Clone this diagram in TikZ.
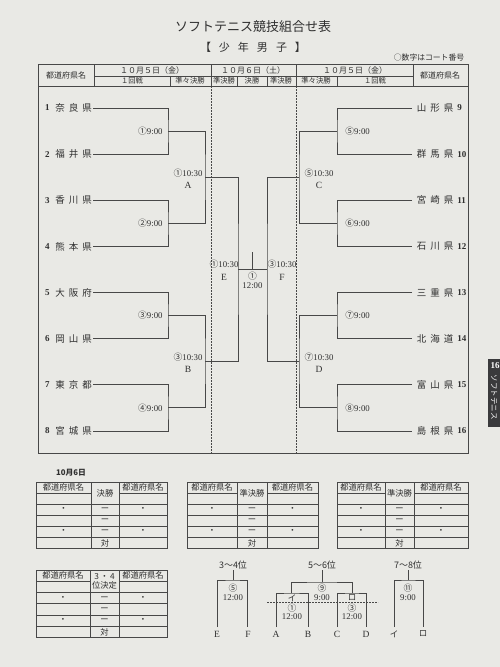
\documentclass[tikz,border=0pt]{standalone}
\usepackage{fontspec}
\setmainfont{Liberation Serif}
\newfontfamily\jp{Noto Sans CJK JP}
\usetikzlibrary{calc}

\definecolor{paper}{RGB}{233,233,229}
\definecolor{ink}{RGB}{48,48,48}
\definecolor{rule}{RGB}{72,72,72}
\definecolor{tabbg}{RGB}{58,58,60}

\newcommand{\pref}[3]{#1\kern4pt#2\kern4pt#3}
\newcommand{\cn}[1]{{\jp #1}}
\newcommand{\fs}[1]{\fontsize{#1}{#1}\selectfont}

% result table: prefix, x0, x1, x2, x3, top, row height, middle header
\newcommand{\scoretab}[8]{%
  \draw (#2,#6) rectangle (#5,{#6+6*#7});
  \draw (#3,#6) -- (#3,{#6+6*#7}) (#4,#6) -- (#4,{#6+6*#7});
  \foreach \r in {1,...,5}
    \draw (#2,{#6+\r*#7}) -- (#3,{#6+\r*#7}) (#4,{#6+\r*#7}) -- (#5,{#6+\r*#7});
  \foreach \r in {2,...,5}
    \draw (#3,{#6+\r*#7}) -- (#4,{#6+\r*#7});
  \node[cell] (#1l) at ({(#2+#3)/2},{#6+0.5*#7}) {都道府県名};
  \node[cell] (#1r) at ({(#4+#5)/2},{#6+0.5*#7}) {都道府県名};
  \node[cell, align=center] (#1m) at ({(#3+#4)/2},{#6+#7}) {#8};
  \foreach \r in {2,4} {
    \node[cell] (#1a\r) at ({(#2+#3)/2},{#6+(\r+0.5)*#7}) {・};
    \node[cell] (#1b\r) at ({(#4+#5)/2},{#6+(\r+0.5)*#7}) {・};
  }
  \foreach \r in {2,3,4}
    \node[cell] (#1c\r) at ({(#3+#4)/2},{#6+(\r+0.5)*#7}) {ー};
  \node[cell] (#1v) at ({(#3+#4)/2},{#6+5.5*#7}) {対};
}

\begin{document}
\begin{tikzpicture}[x=1pt, y=-1pt, line width=0.85pt, draw=rule,
  every node/.style={inner sep=0pt, text=ink},
  team/.style={font=\jp\fs{9.5}},
  num/.style={font=\bfseries\fs{9}},
  time/.style={font=\fs{8.8}},
  rnd/.style={font=\fs{9.5}},
  head/.style={font=\jp\fs{8}},
  cell/.style={font=\jp\fs{8.3}},
  gap/.style={dash pattern=on 2pt off 1pt, line width=0.75pt}]
  \fill[paper] (0,0) rectangle (500,667);
  \useasboundingbox (0,0) rectangle (500,667);

  % titles
  \node[font=\jp\fs{13}] (title) at (253,27) {ソフトテニス競技組合せ表};
  \node[font=\jp\fs{11}] (sex) at (253,47) {【\kern8pt 少\kern8pt 年\kern8pt 男\kern8pt 子\kern8pt 】};
  \node[head, font=\jp\fs{7.8}] (note) at (429,58) {○数字はコート番号};

  % header
  \draw (38,64) rectangle (468,453);
  \draw (38,86) -- (468,86) (94,76) -- (413,76);
  \foreach \x in {94,211,296,413} \draw (\x,64) -- (\x,86);
  \foreach \x in {170,237,267,337} \draw (\x,76) -- (\x,86);
  \draw[gap] (211,86) -- (211,453) (296,86) -- (296,453);
  \node[head] (hl) at (66,75) {都道府県名};
  \node[head] (hr) at (440,75) {都道府県名};
  \node[head] (d1) at (152,70) {１０月５日（金）};
  \node[head] (d2) at (253,70) {１０月６日（土）};
  \node[head] (d3) at (355,70) {１０月５日（金）};
  \foreach \x/\t [count=\n] in {132/１回戦,190/準々決勝,224/準決勝,252/決勝,281/準決勝,316/準々決勝,375/１回戦}
    \node[head, font=\jp\fs{7.3}] (s\n) at (\x,81) {\t};

  % left half
  \foreach \i/\nm in {1/奈良県,2/福井県,3/香川県,4/熊本県,5/大阪府,6/岡山県,7/東京都,8/宮城県}{
    \pgfmathsetmacro\y{108+46.14*(\i-1)}
    \node[num, anchor=east] (ln\i) at (50,\y) {\i};
    \node[team, anchor=west] (lt\i) at (55,\y) {\expandafter\pref\nm};
    \coordinate (la\i) at (93,\y);
  }
  \foreach \k/\a/\b/\c in {1/1/2/①,2/3/4/②,3/5/6/③,4/7/8/④}{
    \pgfmathsetmacro\y{108+46.14*(\a-1)+23.07}
    \coordinate (lm\k) at (168,\y);
    \draw (la\a) -| (lm\k) |- (la\b);
    \node[time, anchor=east] (lr\k) at (163,\y) {\cn{\c}9:00};
  }
  \coordinate (qa) at (205,177);
  \coordinate (qb) at (205,361);
  \draw (lm1) -| (qa) |- (lm2);
  \draw (lm3) -| (qb) |- (lm4);

  % right half
  \foreach \i/\nm in {9/山形県,10/群馬県,11/宮崎県,12/石川県,13/三重県,14/北海道,15/富山県,16/島根県}{
    \pgfmathsetmacro\y{108+46.14*(\i-9)}
    \node[team, anchor=west] (rt\i) at (416.5,\y) {\expandafter\pref\nm};
    \node[num, anchor=west] (rn\i) at (457,\y) {\i};
    \coordinate (ra\i) at (412,\y);
  }
  \foreach \k/\a/\b/\c in {5/9/10/⑤,6/11/12/⑥,7/13/14/⑦,8/15/16/⑧}{
    \pgfmathsetmacro\y{108+46.14*(\a-9)+23.07}
    \coordinate (rm\k) at (337,\y);
    \draw (ra\a) -| (rm\k) |- (ra\b);
    \node[time, anchor=west] (rr\k) at (345,\y) {\cn{\c}9:00};
  }
  \coordinate (qc) at (299,177);
  \coordinate (qd) at (299,361);
  \draw (rm5) -| (qc) |- (rm6);
  \draw (rm7) -| (qd) |- (rm8);

  % semis and final
  \coordinate (ej) at (238,269);
  \coordinate (fj) at (267,269);
  \coordinate (fm) at (252.5,269);
  \coordinate (ft) at (252.5,252);
  \draw (qa) -| (ej) |- (qb);
  \draw (qc) -| (fj) |- (qd);
  \draw (ej) -- (fj) (fm) -- (ft);

  \node[time] (qat) at (188,173) {\cn{①}10:30};
  \node[rnd] (qan) at (188,185) {A};
  \node[time] (qbt) at (188,357) {\cn{③}10:30};
  \node[rnd] (qbn) at (188,369) {B};
  \node[time] (qct) at (319,173) {\cn{⑤}10:30};
  \node[rnd] (qcn) at (319,185) {C};
  \node[time] (qdt) at (319,357) {\cn{⑦}10:30};
  \node[rnd] (qdn) at (319,369) {D};
  \node[time] (et) at (224,264) {\cn{①}10:30};
  \node[rnd] (en) at (224,277) {E};
  \node[time] (ftt) at (282,264) {\cn{③}10:30};
  \node[rnd] (fn) at (282,277) {F};
  \node[time] (fc) at (252.5,276) {\cn{①}};
  \node[time] (fh) at (252.5,286) {12:00};

  % side tab
  \fill[tabbg] (488,359) rectangle (502,427);
  \node[font=\bfseries\fs{9}, text=white] (tabno) at (495,366) {16};
  \node[font=\jp\fs{7.5}, text=white, rotate=-90] (tabtx) at (494,397) {ソフトテニス};

  % result tables
  \node[cell, font=\jp\bfseries\fs{7.8}] (day) at (71,473) {10月6日};
  \scoretab{ta}{36}{91}{119}{167}{482}{11.1}{決勝}
  \scoretab{tb}{187}{237}{267}{318}{482}{11.1}{準決勝}
  \scoretab{tc}{337}{385}{414}{468}{482}{11.1}{準決勝}
  \scoretab{td}{36}{90}{119}{167}{570}{11.3}{3\,・\,4\\位決定}

  % placing brackets
  \node[cell, font=\jp\fs{9}] (p34) at (233,565) {3～4位};
  \coordinate (t3) at (233,580);
  \coordinate (e3) at (217,627);
  \coordinate (f3) at (247,627);
  \draw (e3) |- (t3) -| (f3);
  \draw (t3) -- ++(0,-10);
  \node[time] (c3) at (233,588) {\cn{⑤}};
  \node[time] (h3) at (233,598) {12:00};
  \node[rnd] (le3) at (217,634) {E};
  \node[rnd] (lf3) at (248,634) {F};

  \node[cell, font=\jp\fs{9}] (p56) at (322,565) {5～6位};
  \coordinate (t5) at (322,582);
  \coordinate (ti) at (291,593);
  \coordinate (tr) at (352,593);
  \coordinate (a5) at (276,627);
  \coordinate (b5) at (308,627);
  \coordinate (c5) at (337,627);
  \coordinate (d5) at (366,627);
  \draw (ti) |- (t5) -| (tr);
  \draw (t5) -- ++(0,-12);
  \draw (a5) |- (ti) -| (b5);
  \draw (c5) |- (tr) -| (d5);
  \draw[gap] (267,602) -- (378,602);
  \node[time] (c9) at (322,588) {\cn{⑨}};
  \node[time] (h9) at (322,598) {9:00};
  \node[cell, font=\jp\fs{8.5}] (ki) at (292,598) {イ};
  \node[time] (c1) at (292,608) {\cn{①}};
  \node[time] (h1) at (292,617) {12:00};
  \node[cell, font=\jp\fs{8.5}] (kr) at (352,598) {ロ};
  \node[time] (c33) at (352,608) {\cn{③}};
  \node[time] (h33) at (352,617) {12:00};
  \node[rnd] (la) at (276,634) {A};
  \node[rnd] (lb) at (308,634) {B};
  \node[rnd] (lc) at (337,634) {C};
  \node[rnd] (ld) at (366,634) {D};

  \node[cell, font=\jp\fs{9}] (p78) at (408,565) {7～8位};
  \coordinate (t7) at (408,580);
  \coordinate (i7) at (394,627);
  \coordinate (r7) at (423,627);
  \draw (i7) |- (t7) -| (r7);
  \draw (t7) -- ++(0,-10);
  \node[time] (c11) at (408,588) {\cn{⑪}};
  \node[time] (h11) at (408,598) {9:00};
  \node[cell, font=\jp\fs{8.5}] (li7) at (394,634) {イ};
  \node[cell, font=\jp\fs{8.5}] (lr7) at (423,634) {ロ};
\end{tikzpicture}
\end{document}
